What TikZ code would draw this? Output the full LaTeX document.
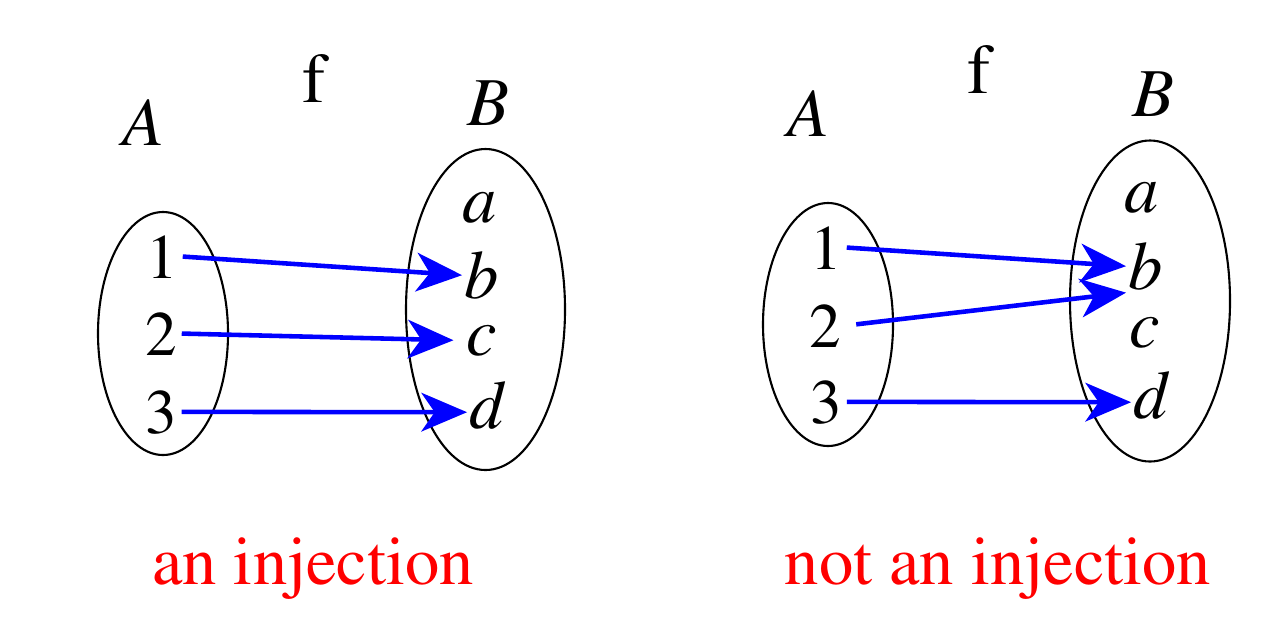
\documentclass[tikz,border=0pt]{standalone}
\usepackage[T1]{fontenc}
\usepackage{times}
\usetikzlibrary{arrows.meta}

\begin{document}
\begin{tikzpicture}[
    elem/.style={anchor=base, inner sep=1.2pt, font=\fontsize{18}{20}\selectfont},
    letter/.style={anchor=base, inner sep=0.6pt, font=\fontsize{19.5}{22}\selectfont\itshape},
    setname/.style={anchor=base, font=\fontsize{19.5}{22}\selectfont\itshape},
    mapname/.style={anchor=base, font=\fontsize{20}{22}\selectfont},
    caption/.style={anchor=base, text=red, font=\fontsize{19.5}{22}\selectfont},
    map arrow/.style={
        draw=blue, line width=1.3pt,
        -{Stealth[length=13pt, width=11pt, inset=3.8pt]}
    },
    set/.style={line width=0.6pt}
  ]
  \useasboundingbox (0,0) rectangle (12.8,6.4);

  % an injection
  \node[setname] (LA) at (1.43,4.95) {A};
  \node[mapname] (Lf) at (3.14,5.38) {f};
  \node[setname] (LB) at (4.88,5.15) {B};

  \draw[set] (1.63,3.065) ellipse (0.65 and 1.215);
  \draw[set] (4.855,3.305) ellipse (0.795 and 1.605);

  \node[elem] (L1) at (1.62,3.62) {1};
  \node[elem] (L2) at (1.61,2.85) {2};
  \node[elem] (L3) at (1.61,2.07) {3};

  \node[letter] (La) at (4.80,4.18) {a};
  \node[letter] (Lb) at (4.82,3.42) {b};
  \node[letter] (Lc) at (4.82,2.85) {c};
  \node[letter] (Ld) at (4.87,2.12) {d};

  \draw[map arrow] (L1.east) -- (Lb.west);
  \draw[map arrow, shorten >=3pt] (L2.east) -- (Lc.west);
  \draw[map arrow] (L3.east) -- ([yshift=-2pt]Ld.west);

  \node[caption] (Lcap) at (3.13,0.56) {an injection};

\begin{scope}[shift={(6.65,0.09)}]
  % not an injection
  \node[setname] (RA) at (1.43,4.95) {A};
  \node[mapname] (Rf) at (3.14,5.38) {f};
  \node[setname] (RB) at (4.88,5.15) {B};

  \draw[set] (1.63,3.065) ellipse (0.65 and 1.215);
  \draw[set] (4.85,3.30) ellipse (0.80 and 1.605);

  \node[elem] (R1) at (1.61,3.62) {1};
  \node[elem] (R2) at (1.60,2.84) {2};
  \node[elem] (R3) at (1.61,2.08) {3};

  \node[letter] (Ra) at (4.77,4.19) {a};
  \node[letter] (Rb) at (4.81,3.42) {b};
  \node[letter] (Rc) at (4.80,2.84) {c};
  \node[letter] (Rd) at (4.86,2.13) {d};

  \draw[map arrow] (R1.east) -- (Rb.west);
  \draw[map arrow, shorten <=3pt] (R2.east) -- (Rb.south west);
  \draw[map arrow] (R3.east) -- ([yshift=-2pt]Rd.west);
\end{scope}

  \node[caption] (Rcap) at (9.98,0.56) {not an injection};

\end{tikzpicture}
\end{document}
